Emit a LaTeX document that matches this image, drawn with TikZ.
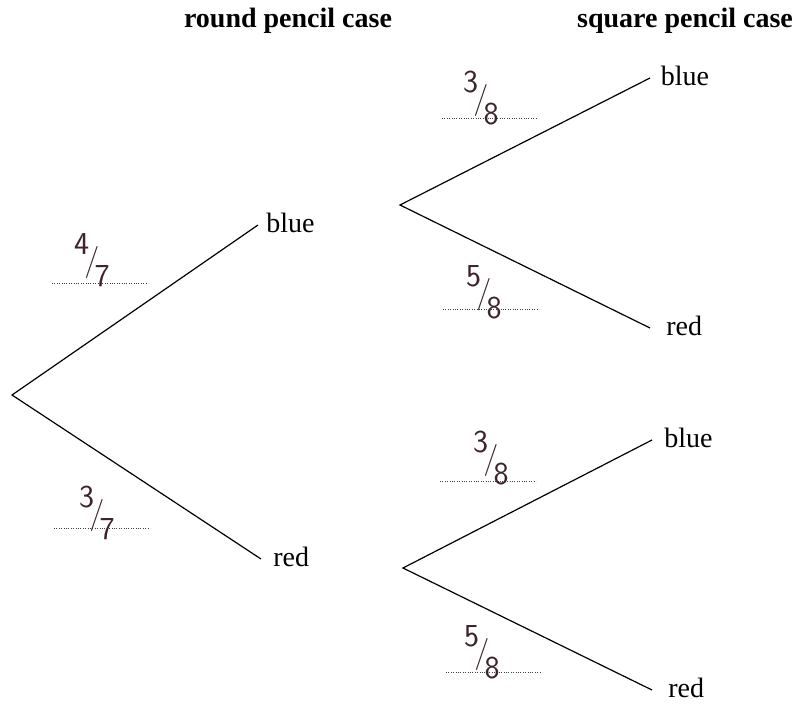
\documentclass[tikz,border=0pt]{standalone}
\usepackage{fontspec}
\setmainfont{Liberation Serif}
\usetikzlibrary{positioning}
\definecolor{pencil}{RGB}{60,35,45}
\newcommand{\hfrac}[2]{\raisebox{0.5em}{#1}\kern-0.15em/\kern-0.15em\raisebox{-0.5em}{#2}}
\tikzset{
  branch/.style={line width=0.9pt},
  lbl/.style={anchor=west, inner xsep=6pt, inner ysep=0pt, text height=1.15em, text depth=0pt, font=\fontsize{21}{24}\selectfont},
  farlbl/.style={lbl, inner xsep=12pt},
  head/.style={anchor=base, inner sep=0pt, font=\fontsize{21}{24}\selectfont\bfseries},
  answer/.style={dash pattern=on 0.6pt off 1.2pt, line width=0.5pt, black!75},
  hand/.style={font=\fontsize{24}{26}\selectfont\sffamily, text=pencil},
}
\begin{document}
\begin{tikzpicture}[x=0.75pt, y=-0.75pt]
    \useasboundingbox (0,0) rectangle (798,705);
    \node[head] (hr) at (288,28) {round pencil case};
    \node[head] (hs) at (685,28) {square pencil case};
    % fork points
    \coordinate (r0) at (12,395);
    \coordinate (f1) at (400,205);
    \coordinate (f2) at (403,568);
    \node[lbl] (b1) at (258,225) {blue};
    \node[farlbl, inner xsep=9pt] (r1) at (261,559) {red};
    \node[lbl, inner xsep=8pt] (bb) at (650,78) {blue};
    \node[farlbl] (br) at (650,328) {red};
    \node[lbl, inner xsep=9pt] (rb) at (652,440) {blue};
    \node[farlbl] (rr) at (652,690) {red};
    \draw[branch] (b1.west) -- (r0) -- (r1.west);
    \draw[branch] (bb.west) -- (f1) -- (br.west);
    \draw[branch] (rb.west) -- (f2) -- (rr.west);
    % answer lines
    \foreach \x/\y in {52/283, 54/528, 442/118, 443/309, 440/481, 446/672}{
        \draw[answer] (\x,\y) -- ++(96,0);
    }
    \node[hand] (p1) at (92,260) {\hfrac{4}{7}};
    \node[hand] (p2) at (97,513) {\hfrac{3}{7}};
    \node[hand] (p3) at (481,98) {\hfrac{3}{8}};
    \node[hand] (p4) at (484,292) {\hfrac{5}{8}};
    \node[hand] (p5) at (491,458) {\hfrac{3}{8}};
    \node[hand] (p6) at (482,652) {\hfrac{5}{8}};
\end{tikzpicture}
\end{document}
